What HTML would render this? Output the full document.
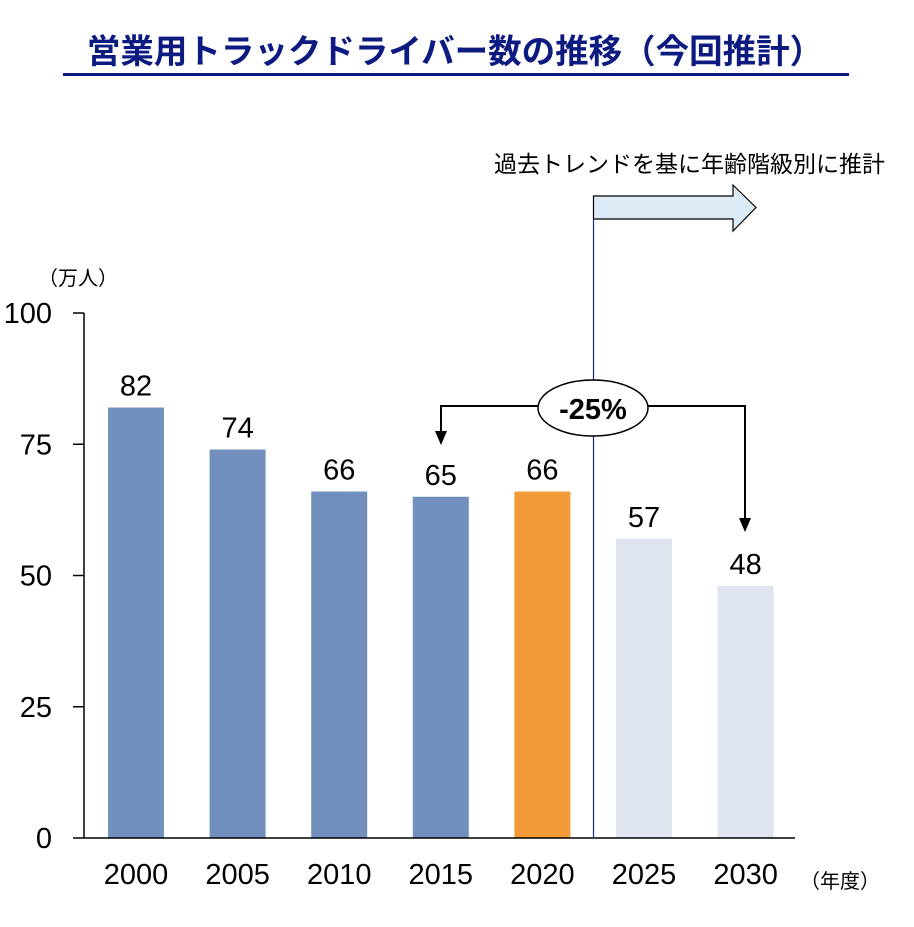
<!DOCTYPE html>
<html><head><meta charset="utf-8"><style>
body{margin:0;background:#fff;}
svg text{font-family:"Liberation Sans","Noto Sans CJK JP",sans-serif;}
</style></head><body>
<svg width="914" height="922" viewBox="0 0 914 922" xmlns="http://www.w3.org/2000/svg">
<text x="455" y="63" text-anchor="middle" font-size="33.5" font-weight="bold" fill="#0d1a80">営業用トラックドライバー数の推移（今回推計）</text>
<line x1="63" y1="74.5" x2="849" y2="74.5" stroke="#0d1a80" stroke-width="3"/>
<text x="38" y="285" font-size="20" fill="#000">（万人）</text>
<text x="800" y="888" font-size="20" fill="#000">（年度）</text>
<text x="885" y="172" text-anchor="end" font-size="23" fill="#000">過去トレンドを基に年齢階級別に推計</text>
<path d="M593.5 196 H733 V185 L756 207.5 L733 231 V219 H593.5 Z" fill="#ddebf7" stroke="#000" stroke-width="1.2"/>
<g id="bars"></g>
<g id="axes"></g>
<line x1="593.5" y1="219" x2="593.5" y2="838" stroke="#1a2a80" stroke-width="1.2"/>
<polyline points="441,406 745,406" fill="none" stroke="#000" stroke-width="2"/>
<line x1="441" y1="405" x2="441" y2="432" stroke="#000" stroke-width="2"/>
<polygon points="435,431 447,431 441,445" fill="#000"/>
<line x1="745" y1="405" x2="745" y2="519" stroke="#000" stroke-width="2"/>
<polygon points="739,518 751,518 745,532" fill="#000"/>
<ellipse cx="593" cy="408" rx="55" ry="28" fill="#fff" stroke="#000" stroke-width="1.5"/>
<text x="593" y="419" text-anchor="middle" font-size="29" font-weight="bold" fill="#000">-25%</text>
<script>
const categories=["2000","2005","2010","2015","2020","2025","2030"];
const values=[82,74,66,65,66,57,48];
const barColors=["#7190bd","#7190bd","#7190bd","#7190bd","#f39a38","#dfe5ef","#dfe5ef"];
const yTicks=[0,25,50,75,100];
const NS="http://www.w3.org/2000/svg";
const y0=838,yTop=313,ymax=100;
function y(v){return y0-(v/ymax)*(y0-yTop);}
function xc(i){return 136+i*101.6;}
const bw=56;
const bars=document.getElementById('bars');
const axes=document.getElementById('axes');
function mk(t,a,p){const e=document.createElementNS(NS,t);for(const k in a)e.setAttribute(k,a[k]);p.appendChild(e);return e;}
values.forEach((v,i)=>{
 const r=mk('rect',{x:xc(i)-bw/2,y:y(v),width:bw,height:y0-y(v),fill:barColors[i]},bars);
 
 
 const t=mk('text',{x:xc(i),y:y(v)-12,'text-anchor':'middle','font-size':29,fill:'#000'},bars);
 t.textContent=v;
 
 
 const c=mk('text',{x:xc(i),y:884,'text-anchor':'middle','font-size':29,fill:'#000'},bars);
 c.textContent=categories[i];
 
 
});
const ya=mk('line',{x1:84,y1:y(ymax),x2:84,y2:y0,stroke:'#000','stroke-width':1.5},axes);


const xa=mk('line',{x1:84,y1:y0,x2:795,y2:y0,stroke:'#000','stroke-width':1.5},axes);


yTicks.forEach(v=>{
 const l=mk('line',{x1:73,y1:y(v),x2:84,y2:y(v),stroke:'#000','stroke-width':1.5},axes);
 
 
 const t=mk('text',{x:52,y:y(v)+10,'text-anchor':'end','font-size':29,fill:'#000'},axes);
 t.textContent=v;
 
 
});
</script>
</svg>
</body></html>
